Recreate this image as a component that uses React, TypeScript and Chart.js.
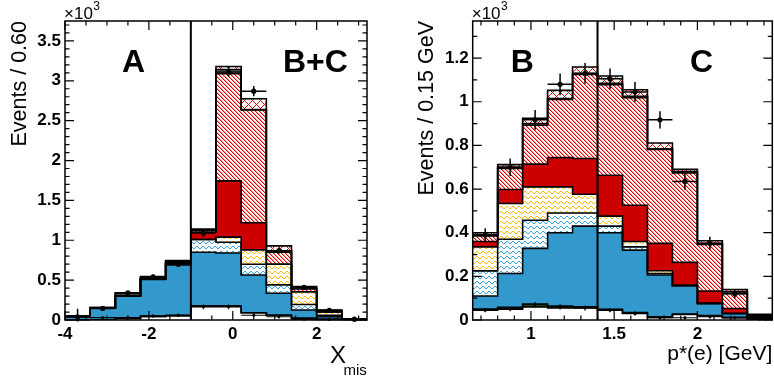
import React, { useEffect, useRef } from "react";
import { Chart, registerables } from "chart.js";

Chart.register(...registerables);

const FONT = "'Liberation Sans', Arial, Helvetica, sans-serif";
Chart.defaults.font.family = FONT;

// ---------------- Left panel (X_mis) ----------------
const leftEdges = [-4.0, -3.4, -2.8, -2.2, -1.6, -1.0, -0.4, 0.2, 0.8, 1.4, 2.0, 2.6, 3.2];
const leftCont = [0.004, 0.004, 0.02, 0.045, 0.055, 0.175, 0.175, 0.09, 0.06, 0.02, 0.01, 0.004];
const leftGreen = [0, 0, 0, 0, 0, 0, 0, 0, 0, 0, 0, 0];
const leftBlue = [0.036, 0.146, 0.28, 0.465, 0.635, 0.675, 0.665, 0.475, 0.275, 0.105, 0.03, 0.004];
const leftLightBlue = [0.005, 0, 0.005, 0.005, 0.02, 0.16, 0.135, 0.135, 0.105, 0.07, 0.02, 0.001];
const leftYellow = [0, 0, 0, 0, 0, 0, 0.065, 0.18, 0.26, 0.16, 0.04, 0.001];
const leftRed = [0, 0, 0, 0, 0, 0.09, 0.705, 0.34, 0, 0, 0, 0];
const leftHatch = [0.003, 0.002, 0.005, 0.005, 0.01, 0.02, 1.345, 1.415, 0.15, 0.035, 0.015, 0.001];
const leftGrey = [0.002, 0.003, 0.025, 0.02, 0.015, 0.01, 0.05, 0.005, 0.015, 0.01, 0.005, 0.001];
const leftCross = [0, 0, 0.005, 0.005, 0.01, 0.01, 0.04, 0.135, 0.065, 0.02, 0.005, 0.001];
const leftData = [0.04, 0.145, 0.34, 0.54, 0.7, 1.09, 3.11, 2.87, 0.87, 0.41, 0.12, 0.01];
const leftDataErr = [0.1, 0.02, 0.025, 0.03, 0.035, 0.045, 0.065, 0.065, 0.04, 0.03, 0.015, 0.01];
const leftContData = [0.0, 0.03, 0.03, 0.05, 0.06, 0.165, 0.165, 0.06, 0.04, 0.01, 0.005, 0.0];
const leftContErr = [0.01, 0.015, 0.02, 0.02, 0.02, 0.03, 0.03, 0.025, 0.02, 0.015, 0.01, 0.005];
const leftXMajor = [-4, -2, 0, 2];
const leftYMajor = [0, 0.5, 1, 1.5, 2, 2.5, 3, 3.5];

// ---------------- Right panel (p*(e)) ----------------
const rightEdges = [0.65, 0.8, 0.95, 1.1, 1.25, 1.4, 1.55, 1.7, 1.85, 2.0, 2.15, 2.3, 2.45];
const rightCont = [0.045, 0.05, 0.06, 0.055, 0.055, 0.045, 0.03, 0.012, 0.025, 0.018, 0.01, 0.005];
const rightGreen = [0.005, 0.008, 0.013, 0.009, 0.006, 0.004, 0.004, 0.003, 0.002, 0.002, 0.002, 0.001];
const rightBlue = [0.06, 0.155, 0.255, 0.336, 0.369, 0.351, 0.286, 0.191, 0.13, 0.056, 0.018, 0.004];
const rightLightBlue = [0.115, 0.157, 0.129, 0.09, 0.06, 0.03, 0.015, 0.007, 0, 0, 0, 0];
const rightYellow = [0.11, 0.164, 0.153, 0.12, 0.086, 0.046, 0.025, 0.013, 0.003, 0, 0, 0];
const rightRed = [0.025, 0.064, 0.104, 0.134, 0.164, 0.187, 0.166, 0.125, 0.104, 0.057, 0.023, 0.002];
const rightHatch = [0.025, 0.096, 0.178, 0.266, 0.385, 0.415, 0.493, 0.43, 0.41, 0.213, 0.069, 0.008];
const rightGrey = [0.005, 0.006, 0.008, 0.005, 0.005, 0.007, 0.006, 0.004, 0.006, 0.004, 0.008, 0.002];
const rightCross = [0.01, 0.012, 0.024, 0.037, 0.029, 0.033, 0.03, 0.026, 0.01, 0.013, 0.01, 0.004];
const rightData = [0.39, 0.7, 0.917, 1.08, 1.13, 1.105, 1.045, 0.917, 0.635, 0.352, 0.12, 0.015];
const rightDataErr = [0.03, 0.04, 0.045, 0.05, 0.048, 0.047, 0.045, 0.04, 0.038, 0.03, 0.02, 0.01];
const rightContData = [0.045, 0.05, 0.07, 0.06, 0.055, 0.045, 0.03, 0.01, 0.01, 0.015, 0.01, 0.003];
const rightContErr = [0.01, 0.01, 0.012, 0.012, 0.012, 0.01, 0.01, 0.008, 0.008, 0.008, 0.006, 0.004];
const rightXMajor = [1, 1.5, 2];
const rightYMajor = [0, 0.2, 0.4, 0.6, 0.8, 1, 1.2];

// ---------------- Colours ----------------
const BLUE = "#3399cc";
const RED = "#cc0000";
const GREEN = "#1a6b1a";
const GREY = "#8c8c8c";
const HATCH_RGB: [number, number, number] = [230, 0, 0];
const HATCH_SOFT: [number, number, number] = [250, 150, 150];
const LBLUE_RGB: [number, number, number] = [58, 166, 224];
const YELLOW_RGB: [number, number, number] = [255, 190, 0];

function pixelTile(
  w: number,
  h: number,
  colorAt: (x: number, y: number) => [number, number, number] | null
) {
  const c = document.createElement("canvas");
  c.width = w;
  c.height = h;
  const g = c.getContext("2d")!;
  const img = g.createImageData(w, h);
  for (let y = 0; y < h; y++) {
    for (let x = 0; x < w; x++) {
      const col = colorAt(x, y) || [255, 255, 255];
      const i = (y * w + x) * 4;
      img.data[i] = col[0];
      img.data[i + 1] = col[1];
      img.data[i + 2] = col[2];
      img.data[i + 3] = 255;
    }
  }
  g.putImageData(img, 0, 0);
  return g.createPattern(c, "repeat")!;
}

const mod = (a: number, m: number) => ((a % m) + m) % m;

function hatchPattern() {
  return pixelTile(4, 4, (x, y) => {
    const d = mod(x - y, 4);
    if (d === 0) return HATCH_RGB;
    if (d === 1) return HATCH_SOFT;
    return null;
  });
}

function crossPattern() {
  return pixelTile(8, 8, (x, y) =>
    mod(x - y, 8) === 0 || mod(x + y, 8) === 0 ? HATCH_RGB : null
  );
}

// wave rows: for each column, which row holds the wave
const WAVE_ROWS = [2, 3, 3, 2, 1, 1];
function wavePattern(col: [number, number, number]) {
  return pixelTile(6, 5, (x, y) => (WAVE_ROWS[x] === y ? col : null));
}

type PanelCfg = {
  edges: number[];
  comps: number[][];
  data: number[];
  dataErr: number[];
  contData: number[];
  contErr: number[];
  xMin: number;
  xMax: number;
  yMax: number;
  xStep: number;
  yStep: number;
  xMajor: number[];
  yMajor: number[];
  xMinorStep: number;
  yMinorStep: number;
  divider: number;
  yTitle: string;
  yTitlePad: number;
  xTitle: string | null;
  yAxisWidth: number;
  padRight: number;
  bigLabels: { text: string; x: number }[];
  xmis: boolean;
};

const errorBarPlugin = {
  id: "errbars",
  afterDatasetsDraw(chart: any) {
    const ctx = chart.ctx;
    const xs = chart.scales.x;
    const ys = chart.scales.y;
    chart.data.datasets.forEach((ds: any) => {
      if (!ds.errors) return;
      ctx.save();
      ctx.strokeStyle = "#000";
      ctx.lineWidth = ds.errWidth;
      ds.data.forEach((p: any, i: number) => {
        const x = xs.getPixelForValue(p.x);
        const y = ys.getPixelForValue(p.y);
        const xl = xs.getPixelForValue(p.x - ds.halfWidth);
        const xr = xs.getPixelForValue(p.x + ds.halfWidth);
        const yl = ys.getPixelForValue(Math.max(0, p.y - ds.errors[i]));
        const yh = ys.getPixelForValue(p.y + ds.errors[i]);
        ctx.beginPath();
        ctx.moveTo(xl, y);
        ctx.lineTo(xr, y);
        ctx.moveTo(x, yl);
        ctx.lineTo(x, yh);
        ctx.stroke();
        ctx.beginPath();
        ctx.fillStyle = "#000";
        ctx.arc(x, y, ds.markR, 0, Math.PI * 2);
        ctx.fill();
      });
      ctx.restore();
    });
  },
};

function framePlugin(p: PanelCfg) {
  return {
    id: "frame",
    afterDraw(chart: any) {
      const ctx = chart.ctx;
      const { left, right, top, bottom } = chart.chartArea;
      const xs = chart.scales.x;
      const ys = chart.scales.y;
      ctx.save();
      ctx.strokeStyle = "#000";
      ctx.lineWidth = 1.5;
      ctx.strokeRect(left, top, right - left, bottom - top);
      ctx.lineWidth = 1.2;
      ctx.beginPath();
      const MAJ = 9;
      const MIN = 4.5;
      const xMinorStart = Math.ceil(p.xMin / p.xMinorStep - 1e-6);
      for (let k = xMinorStart; k * p.xMinorStep <= p.xMax + 1e-9; k++) {
        const v = k * p.xMinorStep;
        const isMaj = p.xMajor.some((m) => Math.abs(m - v) < 1e-6);
        const px = xs.getPixelForValue(v);
        const L = isMaj ? MAJ : MIN;
        ctx.moveTo(px, bottom);
        ctx.lineTo(px, bottom - L);
        ctx.moveTo(px, top);
        ctx.lineTo(px, top + L);
      }
      for (let k = 0; k * p.yMinorStep <= p.yMax + 1e-9; k++) {
        const v = k * p.yMinorStep;
        const isMaj = p.yMajor.some((m) => Math.abs(m - v) < 1e-6);
        const py = ys.getPixelForValue(v);
        const L = isMaj ? MAJ : MIN;
        ctx.moveTo(left, py);
        ctx.lineTo(left + L, py);
        ctx.moveTo(right, py);
        ctx.lineTo(right - L, py);
      }
      ctx.stroke();

      // x10^3 multiplier
      ctx.fillStyle = "#000";
      ctx.textBaseline = "alphabetic";
      ctx.textAlign = "left";
      ctx.font = `17px ${FONT}`;
      const base = "\u00d710";
      ctx.fillText(base, left - 1, 18.5);
      const w = ctx.measureText(base).width;
      ctx.font = `12px ${FONT}`;
      ctx.fillText("3", left - 1 + w + 0.5, 10);

      // big region labels
      ctx.font = `bold 32px ${FONT}`;
      p.bigLabels.forEach((b) => ctx.fillText(b.text, b.x, 72));

      if (p.xmis) {
        ctx.font = `24px ${FONT}`;
        ctx.fillText("X", 330, 363);
        ctx.font = `15px ${FONT}`;
        ctx.fillText("mis", 343.5, 375);
      }
      ctx.restore();
    },
  };
}

function buildConfig(p: PanelCfg) {
  const n = p.edges.length - 1;
  const styles = [
    "#ffffff",
    GREEN,
    BLUE,
    wavePattern(LBLUE_RGB),
    wavePattern(YELLOW_RGB),
    RED,
    hatchPattern(),
    GREY,
    crossPattern(),
  ];
  let cum = new Array(n).fill(0);
  const histSets = p.comps.map((vals, k) => {
    cum = cum.map((c, i) => c + vals[i]);
    const snapshot = cum.slice();
    return {
      type: "line",
      data: p.edges.map((x, i) => ({ x, y: snapshot[Math.min(i, n - 1)] })),
      stepped: "before",
      fill: k === 0 ? "origin" : "-1",
      backgroundColor: styles[k],
      borderColor: "#000",
      borderWidth: 1.6,
      pointRadius: 0,
      order: 2,
    };
  });
  const centers = p.edges.slice(0, n).map((e, i) => (e + p.edges[i + 1]) / 2);
  const halfWidth = (p.edges[1] - p.edges[0]) / 2;
  const dataSet = {
    type: "line",
    data: centers.map((x, i) => ({ x, y: p.data[i] })),
    showLine: false,
    pointRadius: 0,
    fill: false,
    errors: p.dataErr,
    halfWidth,
    errWidth: 1.5,
    markR: 2.6,
    order: 0,
  };
  const contSet = {
    type: "line",
    data: centers.map((x, i) => ({ x, y: p.contData[i] })),
    showLine: false,
    pointRadius: 0,
    fill: false,
    errors: p.contErr,
    halfWidth,
    errWidth: 1.1,
    markR: 1.5,
    order: 0,
  };
  const divider = {
    type: "line",
    data: [
      { x: p.divider, y: 0 },
      { x: p.divider, y: p.yMax },
    ],
    borderColor: "#000",
    borderWidth: 2,
    pointRadius: 0,
    fill: false,
    order: 1,
  };
  const tickFont = { family: FONT, size: 17, weight: "bold" as const };
  const fmt = (v: any) => String(Math.round(Number(v) * 100) / 100);
  return {
    type: "line",
    data: { datasets: [...histSets, divider, contSet, dataSet] },
    options: {
      responsive: false,
      animation: false,
      events: [],
      layout: { padding: { left: 0, right: p.padRight, top: 21, bottom: 0 } },
      plugins: {
        legend: { display: false },
        tooltip: { enabled: false },
        filler: { drawTime: "beforeDatasetsDraw" },
      },
      scales: {
        x: {
          type: "linear",
          min: p.xMin,
          max: p.xMax,
          ticks: {
            stepSize: p.xStep,
            includeBounds: false,
            padding: 4,
            color: "#000",
            font: tickFont,
            maxRotation: 0,
            autoSkip: false,
            callback: fmt,
          },
          grid: { display: false, drawTicks: false },
          border: { display: false },
          title: p.xTitle
            ? {
                display: true,
                text: p.xTitle,
                align: "end",
                color: "#000",
                font: { family: FONT, size: 21 },
                padding: { top: 0, bottom: 11 },
              }
            : { display: false },
          afterFit: (s: any) => {
            s.height = 58;
          },
        },
        y: {
          type: "linear",
          min: 0,
          max: p.yMax,
          ticks: {
            stepSize: p.yStep,
            includeBounds: false,
            padding: 4,
            color: "#000",
            font: tickFont,
            callback: fmt,
          },
          grid: { display: false, drawTicks: false },
          border: { display: false },
          title: {
            display: true,
            text: p.yTitle,
            align: "end",
            color: "#000",
            font: { family: FONT, size: 21.5 },
            padding: { top: p.yTitlePad, bottom: 0 },
          },
          afterFit: (s: any) => {
            s.width = p.yAxisWidth;
          },
        },
      },
    },
    plugins: [errorBarPlugin, framePlugin(p)],
  };
}

const leftCfg: PanelCfg = {
  edges: leftEdges,
  comps: [leftCont, leftGreen, leftBlue, leftLightBlue, leftYellow, leftRed, leftHatch, leftGrey, leftCross],
  data: leftData,
  dataErr: leftDataErr,
  contData: leftContData,
  contErr: leftContErr,
  xMin: -4,
  xMax: 3.2,
  yMax: 3.75,
  xStep: 2,
  yStep: 0.5,
  xMajor: leftXMajor,
  yMajor: leftYMajor,
  xMinorStep: 0.5,
  yMinorStep: 0.1,
  divider: -1.0,
  yTitle: "Events / 0.60",
  yTitlePad: 7.5,
  xTitle: null,
  yAxisWidth: 65,
  padRight: 21,
  bigLabels: [
    { text: "A", x: 122 },
    { text: "B+C", x: 283 },
  ],
  xmis: true,
};

const rightCfg: PanelCfg = {
  edges: rightEdges,
  comps: [rightCont, rightGreen, rightBlue, rightLightBlue, rightYellow, rightRed, rightHatch, rightGrey, rightCross],
  data: rightData,
  dataErr: rightDataErr,
  contData: rightContData,
  contErr: rightContErr,
  xMin: 0.65,
  xMax: 2.45,
  yMax: 1.37,
  xStep: 0.5,
  yStep: 0.2,
  xMajor: rightXMajor,
  yMajor: rightYMajor,
  xMinorStep: 0.1,
  yMinorStep: 0.1,
  divider: 1.4,
  yTitle: "Events / 0.15 GeV",
  yTitlePad: 26,
  xTitle: "p*(e) [GeV]",
  yAxisWidth: 84.7,
  padRight: 1.7,
  bigLabels: [
    { text: "B", x: 122.7 },
    { text: "C", x: 302 },
  ],
  xmis: false,
};

function Panel({ cfg, left, width }: { cfg: PanelCfg; left: number; width: number }) {
  const ref = useRef<HTMLCanvasElement | null>(null);
  useEffect(() => {
    if (!ref.current) return;
    const chart = new Chart(ref.current, buildConfig(cfg) as any);
    return () => chart.destroy();
  }, [cfg]);
  return (
    <canvas
      ref={ref}
      width={width}
      height={378}
      style={{ position: "absolute", left, top: 0, width, height: 378 }}
    />
  );
}

export default function App() {
  return (
    <div
      style={{
        position: "absolute",
        left: 0,
        top: 0,
        width: 774,
        height: 378,
        background: "#ffffff",
        overflow: "hidden",
      }}
    >
      <Panel cfg={leftCfg} left={0} width={388} />
      <Panel cfg={rightCfg} left={388} width={386} />
    </div>
  );
}
